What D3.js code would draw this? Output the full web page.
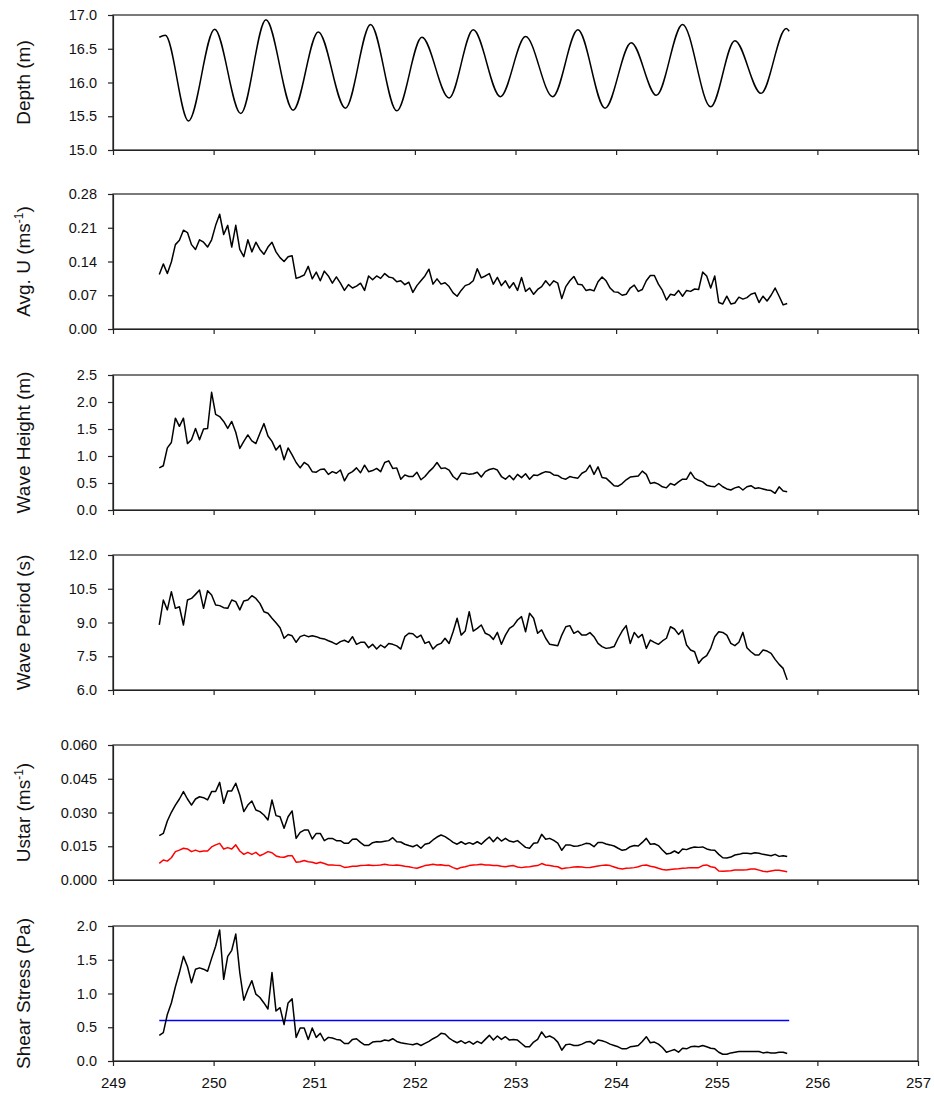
<!DOCTYPE html>
<html lang="en">
<head>
<meta charset="UTF-8">
<title>Depth, current, waves and bed shear stress</title>
<script src="https://cdn.jsdelivr.net/npm/d3@7"></script>
<style>
  body { margin: 0; background: #fff; }
  svg { display: block; font-family: "Liberation Sans", Arial, sans-serif; }
  .axis path, .axis line { stroke: #222; stroke-width: 1.2px; }
  .axis text { fill: #111; font-size: 14.5px; }
  .frame { fill: none; stroke: #222; stroke-width: 1.2px; }
  .ylabel { font-size: 19px; fill: #111; }
</style>
</head>
<body>
<svg id="chart" width="934" height="1094"></svg>
<script>
// sample times (year day), 0.04 d apart
var days = [
  249.46,249.50,249.54,249.58,249.62,249.66,249.70,249.74,249.78,249.82,
  249.86,249.90,249.94,249.98,250.02,250.06,250.10,250.14,250.18,250.22,
  250.26,250.30,250.34,250.38,250.42,250.46,250.50,250.54,250.58,250.62,
  250.66,250.70,250.74,250.78,250.82,250.86,250.90,250.94,250.98,251.02,
  251.06,251.10,251.14,251.18,251.22,251.26,251.30,251.34,251.38,251.42,
  251.46,251.50,251.54,251.58,251.62,251.66,251.70,251.74,251.78,251.82,
  251.86,251.90,251.94,251.98,252.02,252.06,252.10,252.14,252.18,252.22,
  252.26,252.30,252.34,252.38,252.42,252.46,252.50,252.54,252.58,252.62,
  252.66,252.70,252.74,252.78,252.82,252.86,252.90,252.94,252.98,253.02,
  253.06,253.10,253.14,253.18,253.22,253.26,253.30,253.34,253.38,253.42,
  253.46,253.50,253.54,253.58,253.62,253.66,253.70,253.74,253.78,253.82,
  253.86,253.90,253.94,253.98,254.02,254.06,254.10,254.14,254.18,254.22,
  254.26,254.30,254.34,254.38,254.42,254.46,254.50,254.54,254.58,254.62,
  254.66,254.70,254.74,254.78,254.82,254.86,254.90,254.94,254.98,255.02,
  255.06,255.10,255.14,255.18,255.22,255.26,255.30,255.34,255.38,255.42,
  255.46,255.50,255.54,255.58,255.62,255.66,255.70
];

// tide: turning points of the depth record
var depthDays = [249.46,249.52,249.75,250.01,250.27,250.52,250.79,251.04,251.31,251.56,
  251.82,252.07,252.34,252.58,252.85,253.10,253.37,253.62,253.89,254.15,
  254.40,254.66,254.94,255.18,255.44,255.69,255.72];
var depth = [16.67,16.70,15.43,16.79,15.54,16.93,15.59,16.75,15.62,16.86,
  15.58,16.67,15.77,16.78,15.79,16.68,15.79,16.78,15.62,16.59,
  15.81,16.86,15.64,16.62,15.84,16.80,16.76];

var avgU = [
  .113,.135,.115,.139,.175,.184,.205,.200,.175,.165,
  .185,.180,.170,.185,.215,.238,.196,.215,.170,.215,
  .165,.150,.185,.160,.180,.165,.155,.170,.180,.160,
  .148,.140,.150,.152,.105,.108,.112,.130,.104,.118,
  .100,.120,.110,.095,.108,.095,.080,.092,.085,.089,
  .095,.080,.110,.102,.110,.105,.115,.108,.106,.098,
  .100,.092,.097,.076,.090,.100,.110,.124,.093,.104,
  .093,.096,.088,.075,.068,.080,.090,.093,.100,.125,
  .106,.110,.115,.093,.107,.090,.100,.085,.096,.080,
  .107,.078,.085,.072,.082,.088,.100,.090,.100,.095,
  .063,.088,.100,.109,.093,.092,.080,.082,.079,.098,
  .108,.100,.085,.077,.076,.070,.072,.085,.091,.078,
  .082,.100,.111,.111,.093,.080,.060,.072,.070,.080,
  .068,.080,.078,.083,.082,.118,.110,.085,.110,.055,
  .052,.068,.052,.054,.066,.062,.065,.072,.075,.055,
  .068,.058,.070,.085,.068,.050,.053
];

var waveHeight = [
  .78,.82,1.15,1.25,1.70,1.55,1.70,1.23,1.30,1.51,
  1.30,1.50,1.51,2.18,1.77,1.73,1.64,1.51,1.64,1.44,
  1.14,1.27,1.39,1.28,1.23,1.42,1.60,1.37,1.27,1.11,
  1.20,.93,1.15,1.02,.88,.78,.88,.83,.71,.70,
  .75,.76,.66,.71,.68,.74,.54,.67,.71,.78,
  .69,.83,.71,.73,.77,.71,.88,.91,.77,.78,
  .57,.65,.62,.62,.70,.56,.62,.71,.78,.88,
  .77,.78,.74,.62,.56,.68,.68,.66,.67,.70,
  .61,.71,.75,.77,.74,.62,.57,.64,.56,.66,
  .60,.67,.57,.65,.64,.68,.71,.70,.65,.64,
  .59,.57,.62,.60,.59,.68,.72,.83,.66,.80,
  .60,.59,.52,.45,.44,.49,.56,.61,.62,.63,
  .72,.66,.49,.51,.48,.43,.41,.49,.46,.52,
  .57,.57,.70,.59,.55,.52,.46,.44,.43,.49,
  .43,.39,.37,.41,.43,.37,.43,.45,.40,.41,
  .39,.37,.36,.31,.43,.35,.34
];

var wavePeriod = [
  8.89,10.0,9.56,10.37,9.63,9.70,8.89,10.00,10.07,10.25,
  10.44,9.63,10.41,10.22,9.78,9.75,9.66,9.63,10.00,9.93,
  9.56,9.96,10.00,10.19,10.07,9.85,9.48,9.41,9.19,8.99,
  8.77,8.30,8.47,8.41,8.12,8.37,8.44,8.37,8.41,8.37,
  8.30,8.27,8.19,8.12,8.03,8.15,8.21,8.12,8.37,8.03,
  8.12,8.12,7.88,8.03,7.82,8.00,7.88,8.07,8.03,7.96,
  7.82,8.37,8.52,8.50,8.33,8.44,8.07,8.15,7.82,8.00,
  8.07,8.30,8.07,8.59,9.19,8.44,8.62,9.48,8.62,8.74,
  8.89,8.52,8.44,8.25,8.56,8.03,8.44,8.74,8.86,9.11,
  9.26,8.59,9.41,9.19,8.52,8.67,8.30,8.03,8.00,7.97,
  8.44,8.81,8.86,8.52,8.62,8.44,8.44,8.55,8.37,8.07,
  7.93,7.85,7.88,7.93,8.30,8.62,8.86,8.07,8.56,8.33,
  8.47,7.85,8.22,8.12,8.03,8.18,8.30,8.81,8.71,8.47,
  8.67,8.00,7.78,7.70,7.19,7.41,7.53,7.85,8.37,8.59,
  8.56,8.44,8.07,7.97,8.12,8.56,7.88,7.70,7.56,7.56,
  7.78,7.73,7.63,7.36,7.14,6.96,6.45
];

// friction velocity: total (black) and skin (red)
var ustar = [
  .0197,.0207,.0262,.0301,.0333,.0360,.0393,.0360,.0333,.0360,
  .0370,.0366,.0356,.0393,.0393,.0434,.0341,.0396,.0396,.0430,
  .0378,.0304,.0333,.0351,.0311,.0304,.0289,.0267,.0356,.0286,
  .0281,.0230,.0281,.0307,.0185,.0212,.0222,.0222,.0182,.0207,
  .0207,.0175,.0185,.0185,.0175,.0175,.0163,.0163,.0181,.0182,
  .0166,.0153,.0153,.0166,.0170,.0169,.0172,.0175,.0188,.0170,
  .0169,.0159,.0153,.0148,.0156,.0141,.0159,.0163,.0178,.0191,
  .0200,.0193,.0181,.0167,.0159,.0170,.0159,.0166,.0159,.0170,
  .0159,.0176,.0191,.0170,.0190,.0173,.0185,.0173,.0169,.0175,
  .0160,.0145,.0141,.0163,.0166,.0203,.0181,.0185,.0176,.0164,
  .0132,.0156,.0156,.0150,.0151,.0156,.0163,.0161,.0148,.0167,
  .0167,.0160,.0156,.0151,.0141,.0132,.0136,.0148,.0153,.0151,
  .0167,.0185,.0159,.0161,.0153,.0133,.0116,.0119,.0129,.0119,
  .0138,.0135,.0142,.0147,.0145,.0147,.0138,.0133,.0132,.0114,
  .0099,.0098,.0102,.0111,.0114,.0119,.0119,.0117,.0121,.0119,
  .0114,.0111,.0108,.0114,.0105,.0108,.0104
];
var ustarSkin = [
  .0074,.0089,.0084,.0099,.0126,.0133,.0141,.0138,.0126,.0133,
  .0126,.0129,.0129,.0147,.0156,.0163,.0138,.0144,.0138,.0156,
  .0129,.0114,.0123,.0114,.0123,.0108,.0116,.0126,.0121,.0107,
  .0102,.0101,.0108,.0108,.0079,.0081,.0087,.0081,.0079,.0073,
  .0079,.0073,.0067,.0067,.0065,.0064,.0056,.0058,.0061,.0061,
  .0064,.0065,.0067,.0064,.0065,.0067,.0070,.0067,.0065,.0067,
  .0064,.0061,.0059,.0055,.0052,.0058,.0064,.0067,.0070,.0067,
  .0068,.0064,.0064,.0055,.0049,.0056,.0059,.0064,.0067,.0068,
  .0070,.0067,.0067,.0064,.0064,.0061,.0059,.0062,.0064,.0058,
  .0055,.0058,.0059,.0062,.0064,.0073,.0067,.0064,.0061,.0059,
  .0050,.0053,.0055,.0058,.0059,.0058,.0055,.0056,.0059,.0062,
  .0065,.0067,.0064,.0058,.0052,.0049,.0052,.0053,.0055,.0059,
  .0065,.0067,.0061,.0058,.0052,.0047,.0044,.0047,.0049,.0050,
  .0052,.0053,.0055,.0055,.0055,.0064,.0067,.0059,.0056,.0040,
  .0039,.0040,.0041,.0044,.0044,.0044,.0046,.0049,.0049,.0044,
  .0039,.0037,.0040,.0043,.0043,.0040,.0037
];

var shear = [
  .38,.42,.69,.86,1.10,1.31,1.55,1.40,1.16,1.36,
  1.38,1.36,1.33,1.52,1.70,1.94,1.21,1.55,1.64,1.88,
  1.31,.90,1.06,1.19,.99,.94,.86,.77,1.31,.74,
  .79,.54,.86,.92,.35,.49,.49,.32,.49,.35,
  .41,.30,.35,.34,.32,.31,.26,.26,.32,.33,
  .28,.24,.24,.28,.29,.29,.31,.30,.33,.29,
  .27,.26,.25,.24,.26,.23,.26,.29,.33,.36,
  .41,.40,.34,.30,.27,.30,.26,.29,.25,.29,
  .26,.32,.38,.31,.37,.32,.36,.31,.32,.31,
  .26,.21,.21,.28,.32,.43,.35,.37,.34,.28,
  .16,.24,.25,.23,.23,.25,.28,.29,.25,.31,
  .30,.28,.25,.23,.21,.18,.18,.21,.22,.23,
  .29,.36,.27,.28,.25,.20,.13,.15,.17,.13,
  .19,.18,.21,.22,.21,.23,.21,.19,.18,.13,
  .10,.10,.12,.13,.14,.14,.14,.14,.14,.14,
  .12,.13,.12,.12,.13,.13,.11
];

// critical shear stress for erosion
var critDays = [249.46, 255.72];
var critShear = [0.6, 0.6];

var xTicks = [249, 250, 251, 252, 253, 254, 255, 256, 257];

function pts(xs, ys) { return xs.map(function(d, i) { return [d, ys[i]]; }); }

var panels = [
  {label: ["Depth (m)"], domain: [15, 17], ticks: [15, 15.5, 16, 16.5, 17], fmt: ".1f",
   series: [{data: pts(depthDays, depth), color: "#000", smooth: true}]},
  {label: ["Avg. U (ms", "-1", ")"], domain: [0, 0.28], ticks: [0, 0.07, 0.14, 0.21, 0.28], fmt: ".2f",
   series: [{data: pts(days, avgU), color: "#000"}]},
  {label: ["Wave Height (m)"], domain: [0, 2.5], ticks: [0, 0.5, 1, 1.5, 2, 2.5], fmt: ".1f",
   series: [{data: pts(days, waveHeight), color: "#000"}]},
  {label: ["Wave Period (s)"], domain: [6, 12], ticks: [6, 7.5, 9, 10.5, 12], fmt: ".1f",
   series: [{data: pts(days, wavePeriod), color: "#000"}]},
  {label: ["Ustar (ms", "-1", ")"], domain: [0, 0.06], ticks: [0, 0.015, 0.03, 0.045, 0.06], fmt: ".3f",
   series: [{data: pts(days, ustar), color: "#000"}, {data: pts(days, ustarSkin), color: "#ff0000"}]},
  {label: ["Shear Stress (Pa)"], domain: [0, 2], ticks: [0, 0.5, 1, 1.5, 2], fmt: ".1f",
   series: [{data: pts(critDays, critShear), color: "#0000ff"}, {data: pts(days, shear), color: "#000"}]}
];

var svg = d3.select("#chart");
var left = 113, right = 918, panelH = 135;
var tops = [15, 194, 375, 555, 745, 926];

var x = d3.scaleLinear().domain([249, 257]).range([left, right]);

panels.forEach(function(p, k) {
  var top = tops[k], bottom = top + panelH;
  var y = d3.scaleLinear().domain(p.domain).range([bottom, top]);
  var g = svg.append("g");

  g.append("rect").attr("class", "frame")
    .attr("x", left).attr("y", top)
    .attr("width", right - left).attr("height", panelH);

  var line = d3.line()
    .x(function(d) { return x(d[0]); })
    .y(function(d) { return y(d[1]); });

  p.series.forEach(function(s) {
    g.append("path")
      .datum(s.data)
      .attr("fill", "none")
      .attr("stroke", s.color)
      .attr("stroke-width", 1.5)
      .attr("stroke-linejoin", "round")
      .attr("d", line.curve(s.smooth ? d3.curveMonotoneX : d3.curveLinear));
  });

  g.append("g").attr("class", "axis")
    .attr("transform", "translate(" + left + ",0)")
    .call(d3.axisLeft(y).tickValues(p.ticks).tickFormat(d3.format(p.fmt))
      .tickSize(5).tickSizeOuter(0).tickPadding(11));

  var xa = g.append("g").attr("class", "axis")
    .attr("transform", "translate(0," + bottom + ")")
    .call(d3.axisBottom(x).tickValues(xTicks).tickFormat(d3.format("d"))
      .tickSize(5).tickSizeOuter(0).tickPadding(11));
  xa.selectAll("text").style("font-size", "15px");
  if (k < panels.length - 1) xa.selectAll("text").remove();

  var t = g.append("text").attr("class", "ylabel")
    .attr("text-anchor", "middle")
    .attr("transform", "translate(30," + (top + panelH / 2) + ") rotate(-90)");
  t.append("tspan").text(p.label[0]);
  if (p.label.length > 1) {
    t.append("tspan").attr("dy", -7).style("font-size", "12px").text(p.label[1]);
    t.append("tspan").attr("dy", 7).text(p.label[2]);
  }
});
</script>
</body>
</html>
